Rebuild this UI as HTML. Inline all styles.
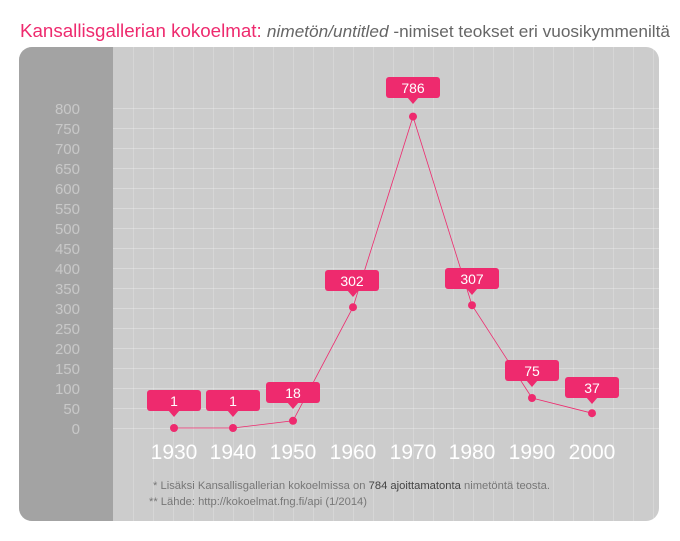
<!DOCTYPE html>
<html><head><meta charset="utf-8"><style>
body{margin:0;background:#fff;width:680px;height:536px;overflow:hidden;font-family:"Liberation Sans",sans-serif}
</style></head><body>
<svg width="680" height="536" xmlns="http://www.w3.org/2000/svg" font-family="Liberation Sans, sans-serif">
<defs><clipPath id="c"><rect x="19" y="47" width="640" height="474" rx="13"/></clipPath></defs>
<text x="20" y="37" font-size="18.5" fill="#ee2a6e" textLength="650" lengthAdjust="spacingAndGlyphs">Kansallisgallerian kokoelmat: <tspan fill="#666" font-size="17" font-style="italic">nimetön/untitled</tspan><tspan fill="#666" font-size="17"> -nimiset teokset eri vuosikymmeniltä</tspan></text>
<g clip-path="url(#c)">
<rect x="19" y="47" width="640" height="474" fill="#cccccc"/>
<rect x="19" y="47" width="94" height="474" fill="#a3a3a3"/>
<g stroke="#fff" stroke-opacity="0.2" stroke-width="1">
<path d="M133.5 47V521M153.5 47V521M173.5 47V521M193.5 47V521M213.5 47V521M233.5 47V521M253.5 47V521M273.5 47V521M293.5 47V521M313.5 47V521M333.5 47V521M353.5 47V521M373.5 47V521M393.5 47V521M413.5 47V521M433.5 47V521M453.5 47V521M473.5 47V521M493.5 47V521M513.5 47V521M533.5 47V521M553.5 47V521M573.5 47V521M593.5 47V521M613.5 47V521M633.5 47V521M653.5 47V521"/>
</g>
<g stroke="#fff" stroke-opacity="0.28" stroke-width="1">
<path d="M113 428.5H659M113 408.5H659M113 388.5H659M113 368.5H659M113 348.5H659M113 328.5H659M113 308.5H659M113 288.5H659M113 268.5H659M113 248.5H659M113 228.5H659M113 208.5H659M113 188.5H659M113 168.5H659M113 148.5H659M113 128.5H659M113 108.5H659"/>
</g>
</g>
<g font-size="15" fill="#c8c8c8" text-anchor="end">
<text x="80" y="434">0</text><text x="80" y="414">50</text><text x="80" y="394">100</text><text x="80" y="374">150</text><text x="80" y="354">200</text><text x="80" y="334">250</text><text x="80" y="314">300</text><text x="80" y="294">350</text><text x="80" y="274">400</text><text x="80" y="254">450</text><text x="80" y="234">500</text><text x="80" y="214">550</text><text x="80" y="194">600</text><text x="80" y="174">650</text><text x="80" y="154">700</text><text x="80" y="134">750</text><text x="80" y="114">800</text>
</g>
<polyline fill="none" stroke="#ee2a6e" stroke-width="0.8" points="174,428 233,428 293,420.8 353,307.2 413,116.6 472,305.2 532,398 592,413.2"/>
<g fill="#ee2a6e">
<circle cx="174" cy="428" r="4"/><circle cx="233" cy="428" r="4"/><circle cx="293" cy="420.8" r="4"/><circle cx="353" cy="307.2" r="4"/><circle cx="413" cy="116.6" r="4"/><circle cx="472" cy="305.2" r="4"/><circle cx="532" cy="398" r="4"/><circle cx="592" cy="413.2" r="4"/>
</g>
<g fill="#ee2a6e">
<rect x="147" y="390" width="54" height="21" rx="3"/><path d="M168 410l6 7 6-7z"/>
<rect x="206" y="390" width="54" height="21" rx="3"/><path d="M227 410l6 7 6-7z"/>
<rect x="266" y="382" width="54" height="21" rx="3"/><path d="M287 402l6 7 6-7z"/>
<rect x="325" y="270" width="54" height="21" rx="3"/><path d="M347 290l6 7 6-7z"/>
<rect x="386" y="77" width="54" height="21" rx="3"/><path d="M407 97l6 7 6-7z"/>
<rect x="445" y="268" width="54" height="21" rx="3"/><path d="M466 288l6 7 6-7z"/>
<rect x="505" y="360" width="54" height="21" rx="3"/><path d="M526 380l6 7 6-7z"/>
<rect x="565" y="377" width="54" height="21" rx="3"/><path d="M586 397l6 7 6-7z"/>
</g>
<g font-size="14" fill="#fff" text-anchor="middle">
<text x="174" y="406">1</text><text x="233" y="406">1</text><text x="293" y="398">18</text><text x="352" y="286">302</text><text x="413" y="93">786</text><text x="472" y="284">307</text><text x="532" y="376">75</text><text x="592" y="393">37</text>
</g>
<g font-size="21" fill="#fff" text-anchor="middle">
<text x="174" y="459">1930</text><text x="233" y="459">1940</text><text x="293" y="459">1950</text><text x="353" y="459">1960</text><text x="413" y="459">1970</text><text x="472" y="459">1980</text><text x="532" y="459">1990</text><text x="592" y="459">2000</text>
</g>
<text x="153" y="489" font-size="11" fill="#777" textLength="397" lengthAdjust="spacingAndGlyphs">* Lisäksi Kansallisgallerian kokoelmissa on <tspan fill="#444">784 ajoittamatonta</tspan> nimetöntä teosta.</text>
<text x="149" y="505" font-size="11" fill="#777" textLength="218" lengthAdjust="spacingAndGlyphs">** Lähde: http://kokoelmat.fng.fi/api (1/2014)</text>
</svg>
</body></html>
